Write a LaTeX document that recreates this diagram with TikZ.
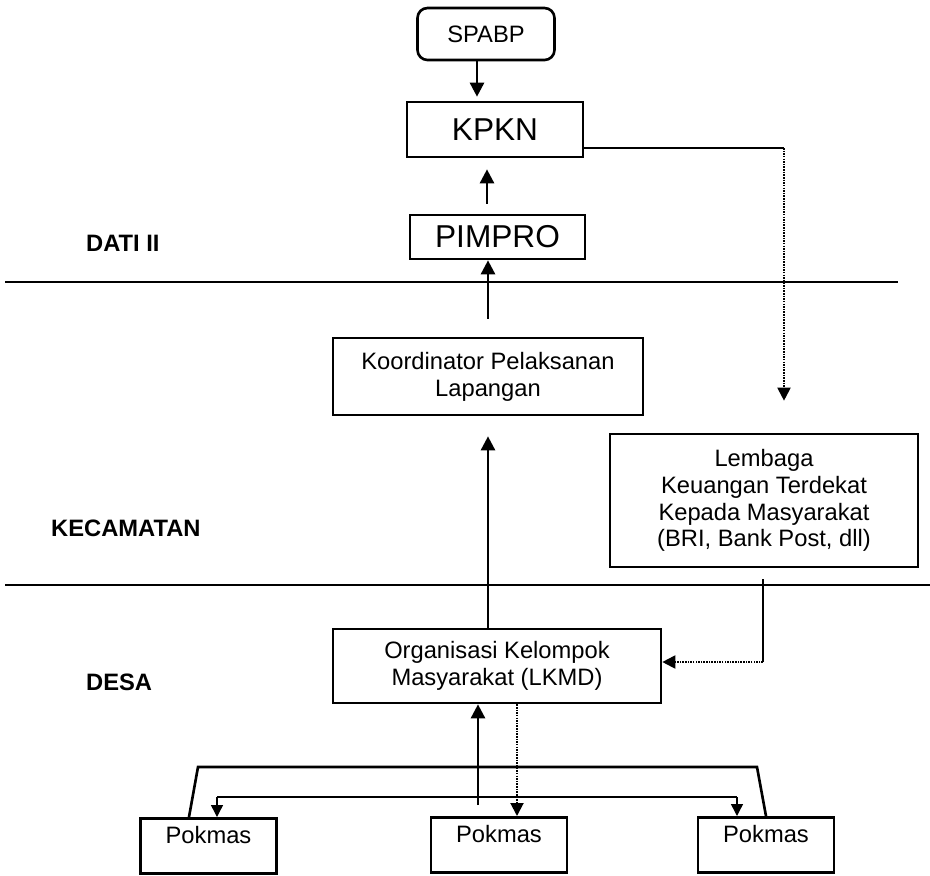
\documentclass[tikz,border=0pt]{standalone}
\usepackage{fontspec}
\setmainfont{Liberation Sans}
\usepackage{tikz}
\usetikzlibrary{arrows.meta,positioning,calc}

\begin{document}
\begin{tikzpicture}[x=0.2mm,y=-0.2mm,
  box/.style={draw,line width=1.5pt,align=center,inner sep=2pt,font=\fontsize{13.5}{15.3}\selectfont},
  pok/.style={box,inner sep=0pt,minimum width=27.2mm,text height=5mm,text depth=6mm,anchor=north},
  tier/.style={anchor=west,font=\fontsize{13.5}{16}\selectfont\bfseries},
  up/.style={-{Triangle[length=2.8mm,width=2.8mm]},line width=1.5pt},
  down/.style={-{Triangle[length=2.4mm,width=2.4mm]},line width=0.8pt},
  dots/.style={-{Triangle[length=2.6mm,width=2.6mm]},line width=1.1pt,dash pattern=on 0.9pt off 0.6pt},
  feed/.style={line width=0.7pt}]
\useasboundingbox (0,0) rectangle (930,875);
% tiers
\draw[line width=1pt] (5,282) -- (898,282);
\draw[line width=1pt] (5,585) -- (930,585);
\node[tier] (dati) at (80,243) {DATI II};
\node[tier] (kec) at (45,528) {KECAMATAN};
\node[tier] (desa) at (80,682) {DESA};
% boxes
\node[box,rounded corners=2mm,minimum width=27.4mm,minimum height=10.4mm] (spabp) at (486,34) {SPABP};
\node[box,font=\fontsize{18}{20}\selectfont,minimum width=35.2mm,minimum height=11mm] (kpkn) at (495,129.5) {KPKN};
\node[box,font=\fontsize{18}{20}\selectfont,minimum width=35mm,minimum height=8.8mm] (pimpro) at (497.5,237) {PIMPRO};
\node[box,minimum width=62mm,minimum height=15.4mm] (koord) at (488,376.5) {Koordinator Pelaksanan\\Lapangan};
\node[box,minimum width=61.6mm,minimum height=26.6mm] (lembaga) at (764,500.5)
  {Lembaga\\Keuangan Terdekat\\Kepada Masyarakat\\(BRI, Bank Post, dll)};
\node[box,minimum width=65.6mm,minimum height=14.8mm] (lkmd) at (497,666) {Organisasi Kelompok\\Masyarakat (LKMD)};
\node[pok] (pokL) at (208.5,817) {Pokmas};
\node[pok] (pokM) at (499,816) {Pokmas};
\node[pok] (pokR) at (766,816) {Pokmas};
% upward reporting
\draw[up,shorten >=0.8mm] ([xshift=-1.8mm]spabp.south) -- ([xshift=-1.8mm]spabp.south |- kpkn.north);
\draw[up,shorten <=2mm,shorten >=2.2mm] ([xshift=-2.1mm]pimpro.north) -- ([xshift=-2.1mm]pimpro.north |- kpkn.south);
\draw[up,shorten <=3.6mm] (koord.north) -- (koord.north |- pimpro.south);
\draw[up,shorten >=4mm] ([xshift=-1.8mm]lkmd.north) -- ([xshift=-1.8mm]lkmd.north |- koord.south);
\draw[up,shorten <=2.2mm] ([xshift=-4.2mm]pokM.north) -- ([xshift=-4.2mm]pokM.north |- lkmd.south);
% funds
\coordinate (bendA) at (784,148);
\coordinate (bendB) at (763,662);
\draw[feed] (kpkn.east |- bendA) -- (bendA);
\draw[dots,shorten >=6.4mm] (bendA) -- (bendA |- lembaga.north);
\draw[feed,shorten <=2.2mm] (lembaga.south -| bendB) -- (bendB);
\draw[dots] (bendB) -- (lkmd.east |- bendB);
\draw[dots] ([xshift=3.6mm]pokM.north |- lkmd.south) -- ([xshift=3.6mm]pokM.north);
% pokmas group
\coordinate (brL) at (198,767);
\coordinate (brR) at (757,767);
\draw[line width=1.5pt] ([xshift=-3.9mm]pokL.north) -- (brL) -- (brR) -- (pokR.north);
\coordinate (busL) at (217,797);
\coordinate (busR) at (737,797);
\draw[line width=0.8pt] (busL) -- (busR);
\draw[down] (busL) -- (busL |- pokL.north);
\draw[down] (busR) -- (busR |- pokR.north);
\end{tikzpicture}
\end{document}
